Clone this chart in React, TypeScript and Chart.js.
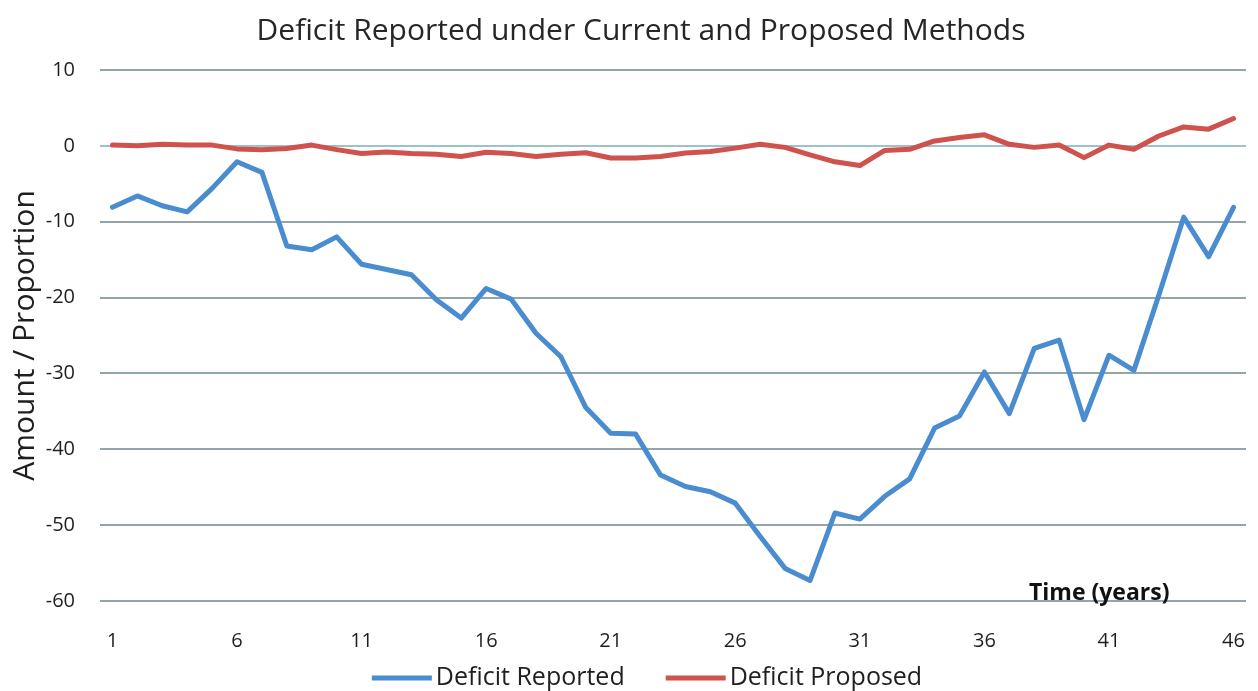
import React, { useEffect, useRef } from "react";
import { Chart, registerables } from "chart.js";

Chart.register(...registerables);

const years: string[] = Array.from({ length: 46 }, (_, i) => String(i + 1));

const deficitReported: number[] = [
  -8.1, -6.6, -7.9, -8.7, -5.6, -2.1, -3.5, -13.2, -13.7, -12.0,
  -15.6, -16.3, -17.0, -20.3, -22.7, -18.8, -20.2, -24.7, -27.8, -34.5,
  -37.9, -38.0, -43.4, -44.9, -45.6, -47.1, -51.5, -55.7, -57.3, -48.4,
  -49.2, -46.2, -43.9, -37.2, -35.6, -29.8, -35.3, -26.7, -25.6, -36.1,
  -27.6, -29.6, -19.7, -9.4, -14.6, -8.1,
];

const deficitProposed: number[] = [
  0.1, 0, 0.2, 0.1, 0.1, -0.4, -0.5, -0.35, 0.1, -0.5,
  -1.0, -0.8, -1.0, -1.1, -1.4, -0.85, -1.0, -1.4, -1.1, -0.9,
  -1.6, -1.6, -1.4, -0.95, -0.75, -0.3, 0.2, -0.2, -1.2, -2.1,
  -2.6, -0.6, -0.45, 0.65, 1.1, 1.45, 0.2, -0.2, 0.1, -1.55,
  0.1, -0.45, 1.3, 2.5, 2.2, 3.6,
];

const TITLE = "Deficit Reported under Current and Proposed Methods";
const Y_TITLE = "Amount / Proportion";
const X_TITLE = "Time (years)";
const FONT = "'Open Sans', 'DejaVu Sans', sans-serif";
const TEXT = "#1f1f1f";

const extraText = {
  id: "extraText",
  afterDraw(chart: any) {
    const { ctx, chartArea } = chart;
    // y-axis title
    ctx.save();
    ctx.fillStyle = TEXT;
    ctx.font = `30px ${FONT}`;
    ctx.textAlign = "center";
    ctx.textBaseline = "middle";
    ctx.translate(25, (chartArea.top + chartArea.bottom) / 2);
    ctx.rotate(-Math.PI / 2);
    ctx.fillText(Y_TITLE, 0, 0);
    ctx.restore();
    // x-axis title (inside plot, bottom right)
    ctx.save();
    ctx.fillStyle = "#111";
    ctx.font = `bold 23px ${FONT}`;
    ctx.textAlign = "left";
    ctx.textBaseline = "alphabetic";
    ctx.fillText(X_TITLE, chartArea.right - 217, chartArea.bottom - 1);
    ctx.restore();
    // legend
    ctx.save();
    ctx.font = `25px ${FONT}`;
    ctx.textBaseline = "middle";
    ctx.textAlign = "left";
    const swatch = 60;
    const gap = 4;
    const itemGap = 41;
    const items = chart.data.datasets.map((d: any) => ({
      label: d.label,
      color: d.borderColor,
      w: swatch + gap + ctx.measureText(d.label).width,
    }));
    const total = items.reduce((s: number, it: any) => s + it.w, 0) + itemGap * (items.length - 1);
    let x = 647 - total / 2;
    const y = 678;
    items.forEach((it: any) => {
      ctx.fillStyle = it.color;
      ctx.fillRect(x, y - 2.5, swatch, 5);
      ctx.fillStyle = TEXT;
      ctx.fillText(it.label, x + swatch + gap, y);
      x += it.w + itemGap;
    });
    ctx.restore();
  },
};

export default function App() {
  const ref = useRef<HTMLCanvasElement | null>(null);
  useEffect(() => {
    document.body.style.margin = "0";
    const canvas = ref.current;
    if (!canvas) return;
    const chart = new Chart(canvas, {
      type: "line",
      data: {
        labels: years,
        datasets: [
          {
            label: "Deficit Reported",
            data: deficitReported,
            borderColor: "#4a8cd0",
            backgroundColor: "#4a8cd0",
            borderWidth: 5,
            pointRadius: 0,
            tension: 0,
            borderJoinStyle: "round",
            borderCapStyle: "round",
          },
          {
            label: "Deficit Proposed",
            data: deficitProposed,
            borderColor: "#cf524d",
            backgroundColor: "#cf524d",
            borderWidth: 5,
            pointRadius: 0,
            tension: 0,
            borderJoinStyle: "round",
            borderCapStyle: "round",
          },
        ],
      },
      options: {
        animation: false,
        responsive: true,
        maintainAspectRatio: false,
        layout: { padding: { left: 36, right: 12, top: 0, bottom: 30 } },
        plugins: {
          title: {
            display: true,
            text: TITLE,
            color: "#262626",
            font: { family: FONT, size: 30, weight: "normal" },
            padding: { top: 13, bottom: 21 },
          },
          legend: { display: false },
          tooltip: { enabled: false },
        },
        scales: {
          x: {
            offset: true,
            grid: { display: false, drawTicks: true, tickLength: 28 },
            border: { display: false },
            ticks: {
              autoSkip: false,
              maxRotation: 0,
              padding: 0,
              color: TEXT,
              font: { family: FONT, size: 20 },
              callback: (_v: any, i: number) => (i % 5 === 0 ? years[i] : null),
            },
            afterFit: (s: any) => {
              s.height = 60;
            },
          },
          y: {
            min: -60,
            max: 10,
            ticks: {
              stepSize: 10,
              padding: 25,
              color: TEXT,
              font: { family: FONT, size: 20 },
            },
            grid: {
              drawTicks: false,
              lineWidth: 2,
              color: (ctx: any) => (ctx.tick && ctx.tick.value === 0 ? "#9cc2d0" : "#93a4ab"),
            },
            border: { display: false },
            afterFit: (s: any) => {
              s.width = 64;
            },
          },
        },
      },
      plugins: [extraText],
    });
    return () => chart.destroy();
  }, []);
  return (
    <div style={{ width: 1258, height: 691, position: "relative" }}>
      <canvas ref={ref} />
    </div>
  );
}
